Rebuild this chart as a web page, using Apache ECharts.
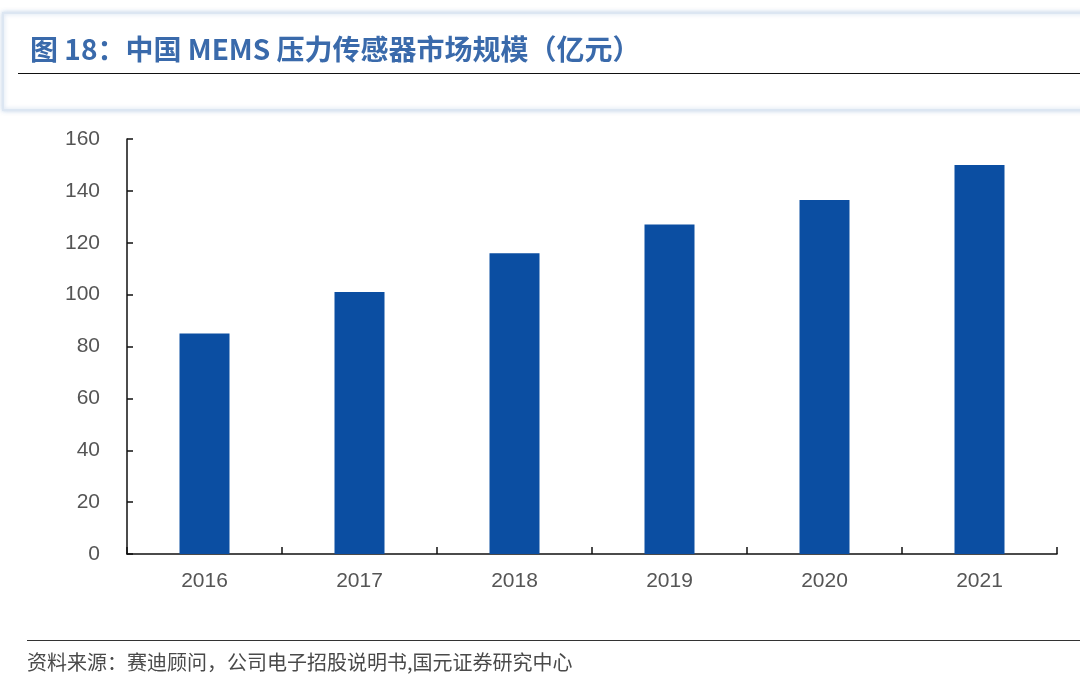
<!DOCTYPE html>
<html>
<head>
  <meta charset="UTF-8">
  <title>中国MEMS压力传感器市场规模</title>
  <style type="text/css">
    html, body { margin: 0; padding: 0; background: #ffffff; }
    #chart { width: 1080px; height: 693px; }
  </style>
  <script src="https://cdn.jsdelivr.net/npm/echarts@6/dist/echarts.min.js"></script>
</head>
<body>
<div id="chart"></div>
<script type="text/javascript">
    // 数据
    var years = ['2016', '2017', '2018', '2019', '2020', '2021'];
    var marketSize = [85, 101, 116, 127, 136.5, 150];
    var titleText = '图 18：中国 MEMS 压力传感器市场规模（亿元）';
    var sourceText = '资料来源：赛迪顾问，公司电子招股说明书,国元证券研究中心';

    var myChart = echarts.init(document.getElementById('chart'));

    var option = {
        animation: false,
        backgroundColor: '#ffffff',
        graphic: [
            {
                // 标题背景框
                type: 'rect',
                shape: { x: 3, y: 13, width: 1090, height: 97 },
                style: {
                    fill: '#ffffff',
                    stroke: '#dce6f2',
                    lineWidth: 2,
                    shadowColor: 'rgba(150,180,220,0.5)',
                    shadowBlur: 4
                },
                z: 0
            },
            {
                type: 'text',
                left: 30,
                top: 35,
                style: {
                    text: titleText,
                    fill: '#3a6aab',
                    font: 'bold 28px "Noto Sans CJK SC", sans-serif'
                },
                z: 2
            },
            {
                type: 'line',
                shape: { x1: 18, y1: 73.5, x2: 1080, y2: 73.5 },
                style: { stroke: '#111111', lineWidth: 1.2 },
                z: 2
            },
            {
                type: 'line',
                shape: { x1: 27, y1: 640.5, x2: 1080, y2: 640.5 },
                style: { stroke: '#333333', lineWidth: 1.2 },
                z: 2
            },
            {
                type: 'text',
                left: 27,
                top: 652,
                style: {
                    text: sourceText,
                    fill: '#4a4a4a',
                    font: '20px "Noto Sans CJK SC", sans-serif'
                },
                z: 2
            }
        ],
        grid: {
            left: 127,
            right: 23,
            top: 139,
            bottom: 139
        },
        xAxis: {
            type: 'category',
            data: years,
            axisLine: { lineStyle: { color: '#111111', width: 1.5 } },
            axisTick: { show: true, inside: true, length: 7, lineStyle: { color: '#111111', width: 1.5 } },
            axisLabel: {
                color: '#555555',
                fontSize: 21,
                fontFamily: 'Liberation Sans, Arial, sans-serif',
                margin: 17
            }
        },
        yAxis: {
            type: 'value',
            min: 0,
            max: 160,
            interval: 20,
            axisLine: { show: true, lineStyle: { color: '#111111', width: 1.5 } },
            axisTick: { show: true, inside: true, length: 6, lineStyle: { color: '#111111', width: 1.5 } },
            splitLine: { show: false },
            axisLabel: {
                color: '#555555',
                fontSize: 21,
                fontFamily: 'Liberation Sans, Arial, sans-serif',
                margin: 27
            }
        },
        series: [
            {
                type: 'bar',
                data: marketSize,
                barWidth: 50,
                itemStyle: { color: '#0b4ea2' }
            }
        ]
    };
    myChart.setOption(option);
</script>
</body>
</html>
